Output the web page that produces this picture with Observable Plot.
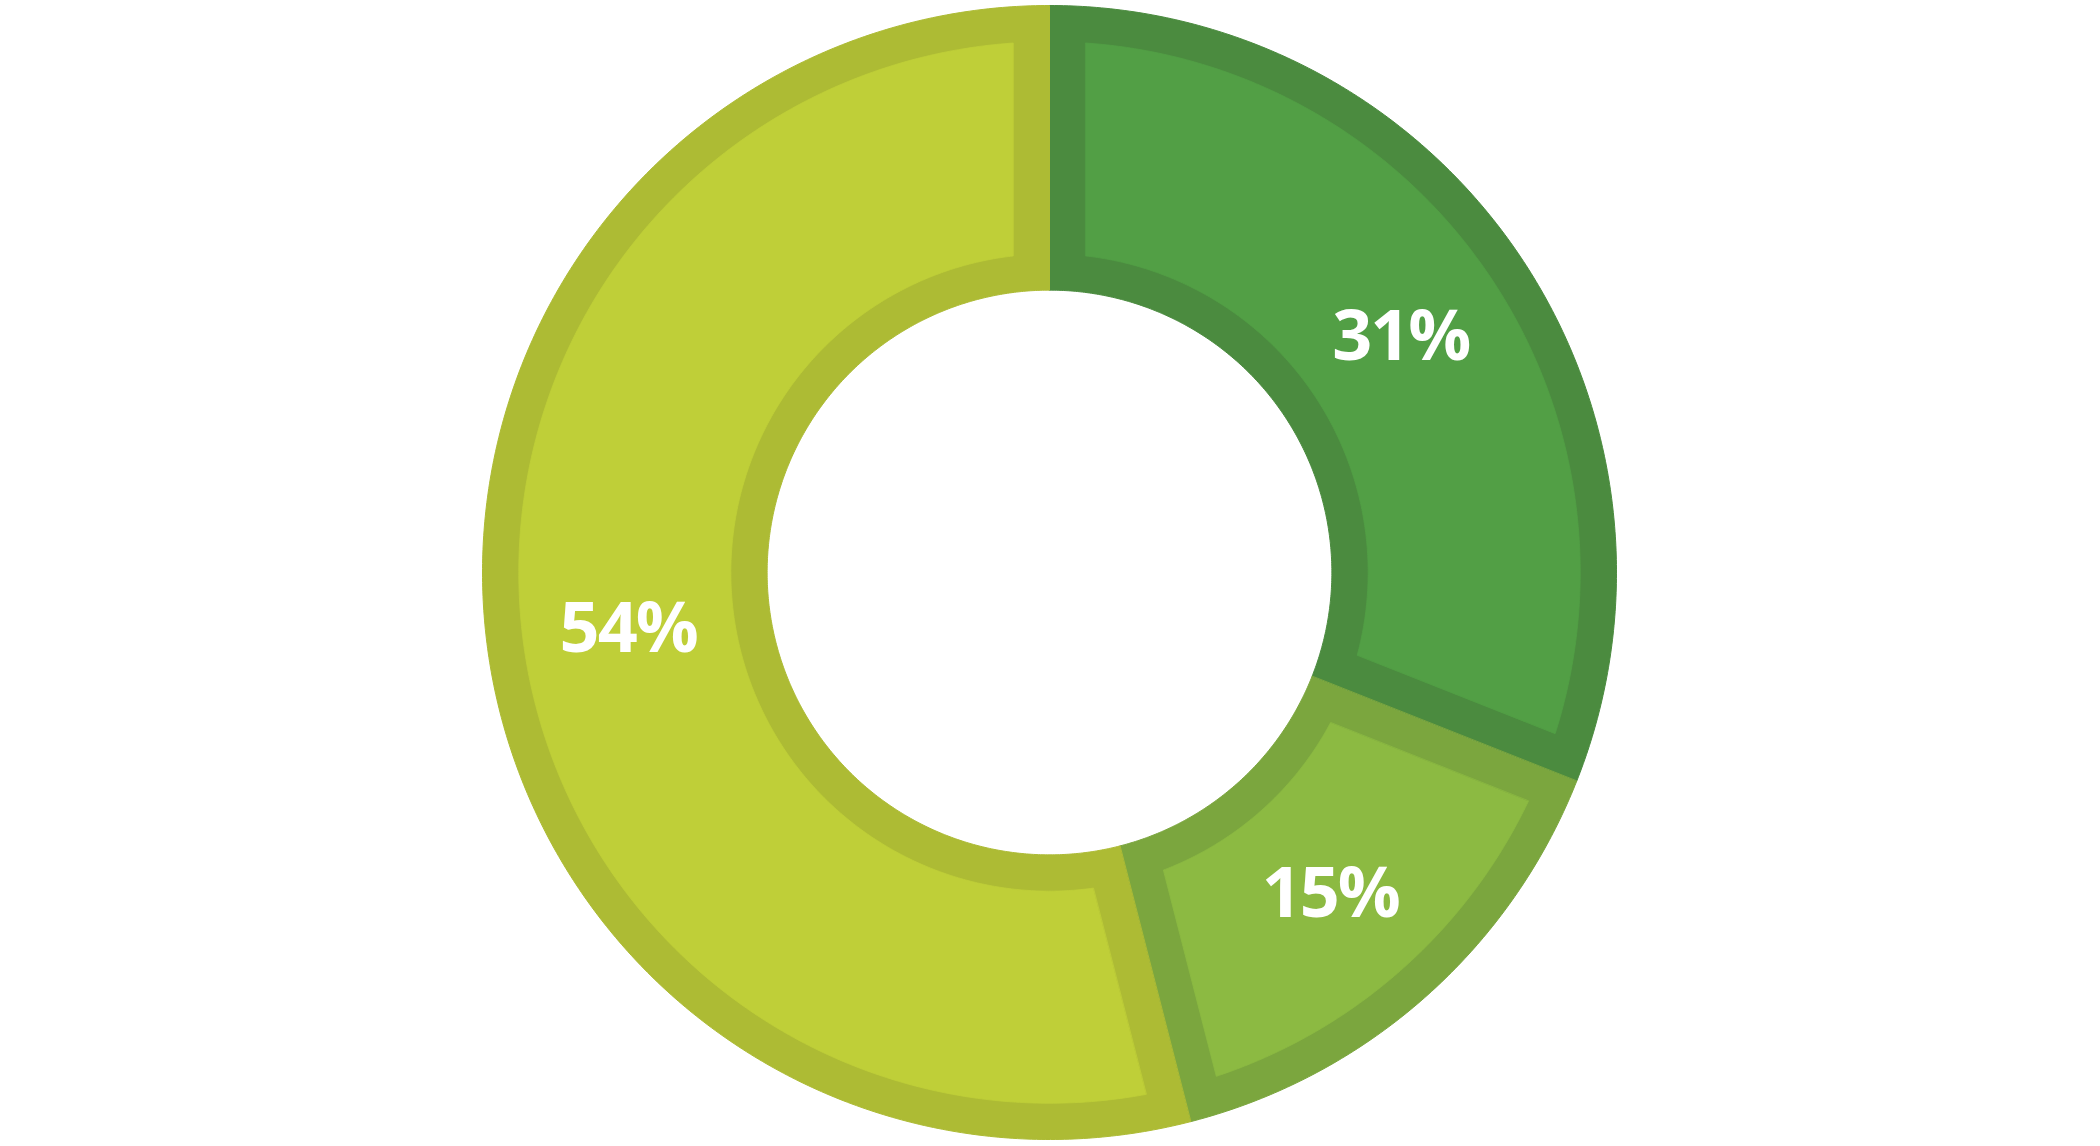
<!DOCTYPE html>
<html>
<head>
<meta charset="utf-8">
<script src="https://cdn.jsdelivr.net/npm/d3@7"></script>
<script src="https://cdn.jsdelivr.net/npm/@observablehq/plot@0.6"></script>
<style>
  html, body { margin: 0; padding: 0; background: #ffffff; }
  #chart { width: 2100px; height: 1146px; }
</style>
</head>
<body>
<div id="chart"></div>
<script>
// Data
const categories = ["A", "B", "C"];
const values = [31, 15, 54];
const labels = ["31%", "15%", "54%"];
const fillColors = ["#529f45", "#8cba42", "#bfcf38"];
const borderColors = ["#4b8b3f", "#7ba63e", "#adbb34"];

// Geometry (in units of outer radius)
const R_OUT = 1, R_IN = 0.498, BORDER = 0.064;
const total = d3.sum(values);
let acc = 0;
const segs = values.map((v, i) => {
  const a0 = acc / total * 2 * Math.PI;
  acc += v;
  const a1 = acc / total * 2 * Math.PI;
  return {i, a0, a1, v};
});

function arcPts(r, s, e, n) {
  const pts = [];
  for (let k = 0; k <= n; k++) {
    const a = s + (e - s) * k / n;
    pts.push([r * Math.sin(a), r * Math.cos(a)]);
  }
  return pts;
}

const outerPolys = [];
const innerPolys = [];
segs.forEach(s => {
  const n = Math.max(8, Math.ceil((s.a1 - s.a0) * 120));
  const o = arcPts(R_OUT, s.a0, s.a1, n).concat(arcPts(R_IN, s.a1, s.a0, n));
  o.forEach(([x, y]) => outerPolys.push({id: s.i, x, y, c: borderColors[s.i]}));
  const ro = R_OUT - BORDER, ri = R_IN + BORDER;
  const dOut = Math.asin(BORDER / ro), dIn = Math.asin(BORDER / ri);
  const p = arcPts(ro, s.a0 + dOut, s.a1 - dOut, n).concat(arcPts(ri, s.a1 - dIn, s.a0 + dIn, n));
  p.forEach(([x, y]) => innerPolys.push({id: s.i, x, y, c: fillColors[s.i]}));
});

const labelData = segs.map(s => {
  const am = (s.a0 + s.a1) / 2, rm = (R_OUT + R_IN) / 2;
  return {x: rm * Math.sin(am), y: rm * Math.cos(am), label: labels[s.i]};
});

const W = 2100, H = 1146, CX = 1049, CY = 572, R = 567;

const chart = Plot.plot({
  width: W,
  height: H,
  margin: 0,
  style: {background: "#ffffff", letterSpacing: "-2px"},
  x: {domain: [-1, 1], range: [CX - R, CX + R], axis: null},
  y: {domain: [-1, 1], range: [CY + R, CY - R], axis: null},
  color: {type: "identity"},
  marks: [
    Plot.line(outerPolys, {x: "x", y: "y", z: "id", fill: "c", stroke: "c", strokeWidth: 1, curve: "linear-closed"}),
    Plot.line(innerPolys, {x: "x", y: "y", z: "id", fill: "c", stroke: "c", strokeWidth: 0.8, curve: "linear-closed"}),
    Plot.text(labelData, {x: "x", y: "y", text: "label", fill: "white", fontSize: 70, fontWeight: 700, fontFamily: "'Open Sans', sans-serif", dy: 4})
  ]
});
document.getElementById("chart").appendChild(chart);
</script>
</body>
</html>
